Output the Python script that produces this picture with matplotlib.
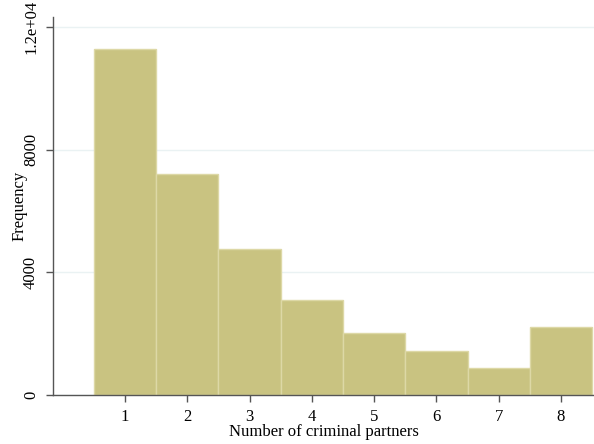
import matplotlib
matplotlib.use("Agg")
import matplotlib.pyplot as plt

plt.rcParams["font.family"] = ["Liberation Serif", "DejaVu Serif"]

# Histogram of number of criminal partners
partners = [1, 2, 3, 4, 5, 6, 7, 8]
frequency = [11300, 7200, 4760, 3100, 2020, 1435, 880, 2215]

bar_color = "#c9c381"
edge_color = "#ddd8a6"
axis_color = "#555555"

fig = plt.figure(figsize=(5.94, 4.44), dpi=100)
ax = fig.add_axes([0.0892, 0.1104, 0.9108, 0.8513])

ax.bar(partners, frequency, width=1.0, color=bar_color, edgecolor=edge_color,
       linewidth=1.0, zorder=2)

ax.set_xlim(-0.156, 8.53)
ax.set_ylim(0, 12330)

ax.set_yticks([0, 4000, 8000, 12000])
ax.set_yticklabels(["0", "4000", "8000", "1.2e+04"], rotation=90, va="center")
ax.set_xticks(partners)
ax.grid(axis="y", color="#eaf2f3", linewidth=1.0, zorder=0)

for side in ("top", "right"):
    ax.spines[side].set_visible(False)
for side in ("left", "bottom"):
    ax.spines[side].set_color(axis_color)
    ax.spines[side].set_linewidth(1.0)

ax.tick_params(axis="both", colors="black", labelsize=12, length=5,
               width=1.0, direction="out", pad=5)
ax.tick_params(axis="both", color=axis_color)

ax.set_xlabel("Number of criminal partners", fontsize=12)
ax.set_ylabel("Frequency", fontsize=12)
ax.xaxis.set_label_coords(0.5, -0.078)
ax.yaxis.set_label_coords(-0.047, 0.5)

fig.savefig("out.png", dpi=100)
